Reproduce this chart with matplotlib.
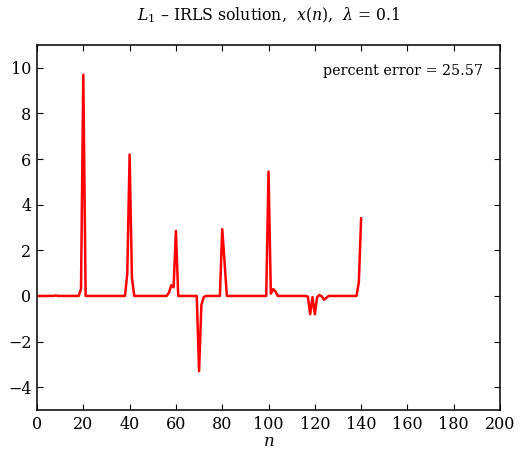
import numpy as np
import matplotlib
matplotlib.use("Agg")
import matplotlib.pyplot as plt

plt.rcParams['font.family'] = ['DejaVu Serif']
plt.rcParams['mathtext.fontset'] = 'dejavuserif'

# L1-IRLS solution x(n), n = 0..140
x_vals = [
    0, 0, 0, 0, 0, 0, 0, 0, 0.02, 0,            # 0-9
    0, 0, 0, 0, 0, 0, 0, 0, 0, 0.3,             # 10-19
    9.7, 0, 0, 0, 0, 0, 0, 0, 0, 0,             # 20-29
    0, 0, 0, 0, 0, 0, 0, 0, 0, 1.0,             # 30-39
    6.2, 0.8, 0, 0, 0, 0, 0, 0, 0, 0,           # 40-49
    0, 0, 0, 0, 0, 0, 0, 0.15, 0.47, 0.38,      # 50-59
    2.85, 0, 0, 0, 0, 0, 0, 0, 0, 0,            # 60-69
    -3.3, -0.4, -0.05, 0, 0, 0, 0, 0, 0, 0,     # 70-79
    2.93, 1.5, 0, 0, 0, 0, 0, 0, 0, 0,          # 80-89
    0, 0, 0, 0, 0, 0, 0, 0, 0, 0,               # 90-99
    5.45, 0.1, 0.3, 0.2, 0, 0, 0, 0, 0, 0,      # 100-109
    0, 0, 0, 0, 0, 0, 0, -0.03, -0.8, -0.05,    # 110-119
    -0.8, -0.05, 0.04, -0.02, -0.17, -0.08, 0, 0, 0, 0,  # 120-129
    0, 0, 0, 0, 0, 0, 0, 0, 0, 0.6,             # 130-139
    3.4,                                        # 140
]
n = np.arange(len(x_vals))
percent_error = 25.57
lam = 0.1

fig = plt.figure(figsize=(5.31, 4.61), dpi=100)
ax = fig.add_axes([0.0697, 0.1106, 0.872, 0.7918])

ax.plot(n, x_vals, color='red', lw=1.8)

ax.set_xlim(0, 200)
ax.set_ylim(-5, 11)
ax.set_xticks(np.arange(0, 201, 20))
ax.set_yticks(np.arange(-4, 11, 2))
ax.set_yticklabels(['\u22124', '\u22122', '0', '2', '4', '6', '8', '10'])
ax.tick_params(direction='in', top=True, right=True, length=4.5, width=0.8,
               labelsize=11.5, pad=4)
for s in ax.spines.values():
    s.set_linewidth(1.1)

ax.set_title(r'$L_1$ – IRLS solution,  $x(n)$,  $\lambda$ = %g' % lam,
             fontsize=11.3, pad=18)
ax.set_xlabel(r'$n$', fontsize=12, labelpad=0)
ax.text(0.963, 0.93, 'percent error = %.2f' % percent_error,
        transform=ax.transAxes, ha='right', va='center', fontsize=10.3)

fig.savefig('out.png', dpi=100)
